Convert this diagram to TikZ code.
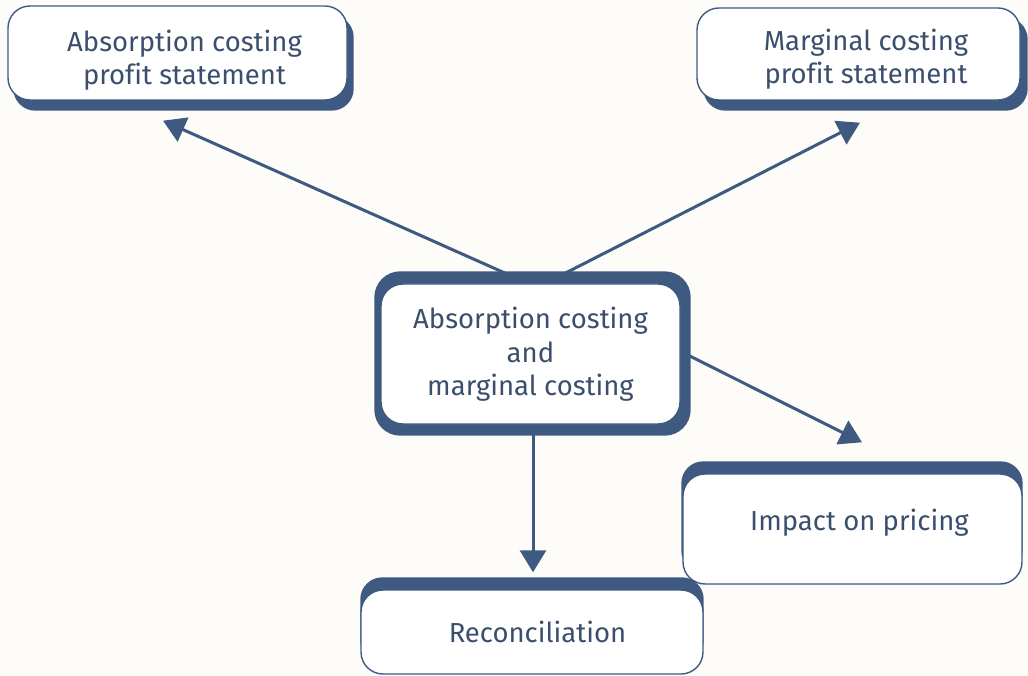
\documentclass[tikz,border=0pt]{standalone}
\usepackage{fontspec}
\setmainfont{Fira Sans}[Ligatures=NoCommon]
\usetikzlibrary{arrows.meta,backgrounds}
\definecolor{dk}{HTML}{3F5A80}
\definecolor{tx}{HTML}{3B4F6D}
\definecolor{bg}{HTML}{FDFCF9}
\newcommand\bxt[3]{\makebox[0pt]{\kern#1pt\raisebox{#2pt}[0pt][0pt]{\begin{tabular}[b]{@{}c@{}}#3\end{tabular}}\kern-#1pt}}
\begin{document}
\begin{tikzpicture}[x=1pt,y=-1pt,
  box/.style={draw=dk, line width=1.4pt, fill=white, rounded corners=22pt, text=tx,
    font=\fontsize{27.5}{33}\selectfont, inner sep=0pt},
  shadowfill/.style={fill=dk, rounded corners=22pt},
  arr/.style={draw=dk, line width=3pt, -{Triangle[length=22pt,width=26pt]}}]
\useasboundingbox (0,0) rectangle (1028,676);

\node[box, minimum width=339pt, minimum height=94pt] (a) at (177.5,53)
  {\bxt{7}{-32}{Absorption costing\\profit statement}};
\node[box, minimum width=323pt, minimum height=92pt] (b) at (858.5,54)
  {\bxt{7.5}{-30}{Marginal costing\\profit statement}};
\node[box, minimum width=299pt, minimum height=140pt] (c) at (530.5,354)
  {\bxt{0}{-41}{Absorption costing\\and\\marginal costing}};
\node[box, minimum width=339pt, minimum height=110pt] (d) at (852.5,529)
  {\bxt{7}{-1}{Impact on pricing}};
\node[box, minimum width=342pt, minimum height=84pt] (e) at (532,632)
  {\bxt{5.5}{-10}{Reconciliation}};

\begin{pgfonlayer}{background}
  \fill[bg] (0,0) rectangle (1028,676);
  \draw[arr] ([xshift=-25pt,yshift=10pt]c.north) -- ([xshift=-14.5pt,yshift=-20pt]a.south);
  \draw[arr] ([xshift=34.5pt,yshift=10pt]c.north) -- ([xshift=1.5pt,yshift=-22pt]b.south);
  \draw[arr] ([xshift=5pt]c.east) -- ([xshift=9.5pt,yshift=31pt]d.north);
  \draw[arr] ([xshift=2.5pt,yshift=-10pt]c.south) -- ([xshift=1pt,yshift=17pt]e.north);
  \fill[shadowfill] ([shift={(6,10)}]a.north west) rectangle ([shift={(6,10)}]a.south east);
  \fill[shadowfill] ([shift={(7,10)}]b.north west) rectangle ([shift={(7,10)}]b.south east);
  \fill[shadowfill, rounded corners=26pt] ([shift={(-6,-12)}]c.north west) rectangle ([shift={(10,11)}]c.south east);
  \fill[shadowfill] ([shift={(-1,-12)}]d.north west) rectangle ([shift={(0,-12)}]d.south east);
  \fill[shadowfill] ([shift={(0,-12)}]e.north west) rectangle ([shift={(0,-12)}]e.south east);
\end{pgfonlayer}
\end{tikzpicture}
\end{document}
